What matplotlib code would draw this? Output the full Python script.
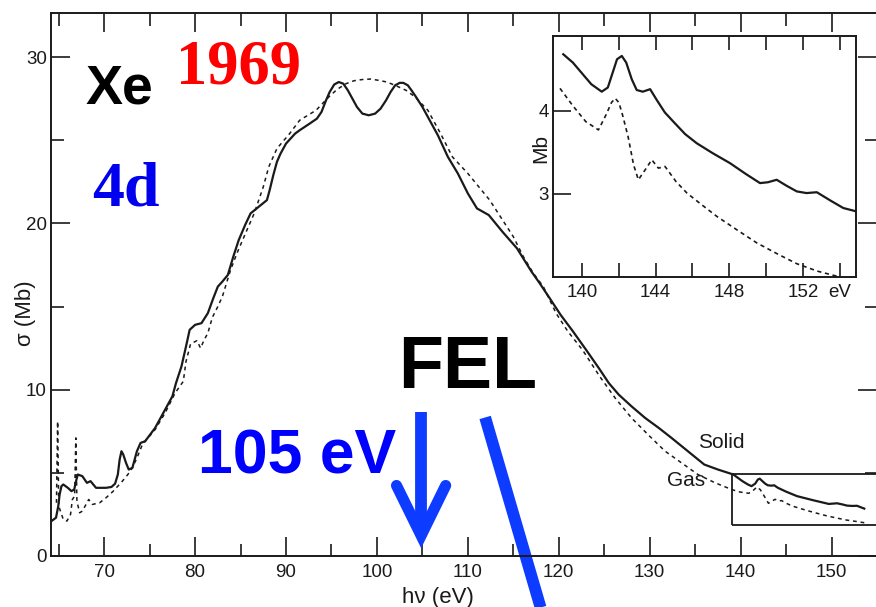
import matplotlib
matplotlib.use("Agg")
import matplotlib.pyplot as plt
from matplotlib.patches import Rectangle

# ---------------- data ----------------
solid_x = [64.2, 64.7, 64.95, 65.1, 65.3, 65.5, 65.75, 66.0, 66.4, 66.7, 66.95, 67.1, 67.6, 68.1,
           68.5, 69.1, 70.2, 70.8, 71.2, 71.5, 71.7, 71.9, 72.1, 72.4, 72.7, 73.1, 73.6, 74.0,
           74.5, 75.6, 76.7, 77.5, 77.9, 78.5, 79.0, 79.4, 80.0, 80.7, 81.4, 82.0, 82.5, 83.0,
           83.6, 84.2, 84.8, 85.5, 86.1, 87.0, 87.9, 88.2, 88.6, 89.0, 89.4, 90.0, 90.5, 91.0,
           91.5, 92.6, 93.4, 93.9, 94.4, 94.8, 95.3, 95.8, 96.3, 96.8, 97.3, 97.8, 98.4, 99.1,
           99.8, 100.4, 101.0, 101.5, 102.0, 102.5, 102.9, 103.4, 103.8, 104.3, 105.0, 105.6,
           106.7, 107.8, 108.9, 110.0, 111.0, 112.3, 113.8, 115.4, 117.0, 117.9, 119.0, 120.2,
           121.5, 123.0, 124.4, 125.5, 126.6, 128.0, 129.5, 131.0, 132.4, 134.2, 136.0, 137.5,
           139.2, 140.2, 140.8, 141.2, 141.6, 141.9, 142.1, 142.4, 142.7, 143.0, 143.4, 143.7,
           144.1, 145.0, 146.2, 148.0, 149.7, 150.2, 150.6, 151.2, 151.7, 152.3, 152.8, 153.6]
solid_y = [2.1, 2.3, 3.0, 3.7, 4.2, 4.3, 4.2, 4.1, 3.9, 4.0, 4.6, 4.9, 4.8, 4.4,
           4.5, 4.1, 4.1, 4.15, 4.35, 4.9, 5.8, 6.3, 6.1, 5.6, 5.2, 5.3, 6.3, 6.8,
           6.9, 7.7, 8.8, 9.6, 10.4, 11.4, 12.6, 13.6, 13.9, 14.0, 14.6, 15.5, 16.2, 16.5,
           16.9, 18.0, 19.0, 19.9, 20.6, 21.0, 21.4, 22.0, 22.9, 23.7, 24.2, 24.8, 25.1, 25.4,
           25.6, 26.0, 26.3, 26.7, 27.4, 27.9, 28.35, 28.5, 28.4, 28.0, 27.5, 27.0, 26.6, 26.5,
           26.6, 26.9, 27.4, 27.9, 28.3, 28.45, 28.45, 28.3, 28.0, 27.6, 27.0, 26.4,
           25.3, 24.0, 23.0, 21.8, 20.9, 20.5, 19.5, 18.5, 17.1, 16.4, 15.5, 14.5,
           13.55, 12.4, 11.3, 10.4, 9.7, 9.0, 8.3, 7.7, 7.1, 6.3, 5.5, 5.2,
           4.9, 4.5, 4.3, 4.2, 4.35, 4.6, 4.65, 4.5, 4.35, 4.25, 4.23, 4.25,
           4.1, 3.87, 3.6, 3.35, 3.13, 3.15, 3.17, 3.1, 3.03, 3.01, 3.02, 2.85]

gas_x = [64.75, 64.88, 65.0, 65.5, 65.9, 66.3, 66.5, 66.75, 66.88, 67.0, 67.3, 67.6, 68.0, 68.3,
         68.7, 69.5, 70.2, 71.0, 72.0, 72.6, 73.1, 73.6, 74.2, 75.6, 76.7, 77.8, 78.7, 79.0,
         79.5, 80.2, 80.6, 81.0, 81.4, 81.9, 82.5, 83.0, 83.9, 84.6, 85.7, 86.5, 87.5, 88.1,
         89.0, 90.4, 91.5, 93.3, 94.7, 95.6, 96.6, 97.5, 98.4, 99.3, 100.2, 101.1, 102.0, 103.2,
         104.2, 105.6, 107.0, 108.3, 110.0, 111.2, 112.4, 113.7, 115.0, 116.1, 117.2, 118.3,
         119.7, 121.0, 122.6, 124.5, 126.2, 128.0, 130.0, 131.7, 133.5, 135.3, 137.2, 139.0,
         139.9, 140.9, 141.4, 141.8, 142.16, 142.5, 143.06, 143.79, 144.15, 144.51, 145.1,
         145.7, 146.5, 147.32, 148.4, 149.5, 150.6, 151.67, 152.8, 153.6]
gas_y = [3.2, 8.1, 3.0, 2.2, 2.1, 2.5, 3.4, 3.6, 7.1, 3.3, 2.6, 2.7, 3.1, 3.4,
         3.1, 3.2, 3.5, 3.9, 4.5, 4.9, 5.3, 5.9, 6.7, 7.6, 8.6, 9.8, 10.5, 11.7,
         12.75, 12.95, 12.5, 13.0, 13.4, 14.35, 15.0, 15.6, 17.2, 18.2, 19.6, 20.6, 22.2, 23.4,
         24.5, 25.4, 26.2, 26.8, 27.6, 28.05, 28.4, 28.58, 28.65, 28.68, 28.6, 28.5, 28.3, 28.0,
         27.6, 26.8, 25.4, 24.0, 23.0, 22.2, 21.4, 20.3, 19.2, 18.0, 17.0, 16.2,
         14.6, 13.5, 12.4, 10.8, 9.5, 8.3, 7.2, 6.3, 5.6, 4.9, 4.4, 4.0,
         3.85, 3.77, 3.95, 4.15, 3.99, 3.69, 3.17, 3.41, 3.31, 3.33, 3.15,
         3.0, 2.87, 2.73, 2.57, 2.41, 2.28, 2.16, 2.07, 2.0]

inset_solid_x = [138.98, 139.5, 140.0, 140.5, 141.07, 141.4, 141.65, 141.9, 142.16, 142.4, 142.7,
                 142.97, 143.3, 143.7, 144.06, 144.5, 144.96, 145.6, 146.23, 147.1, 148.04,
                 148.9, 149.67, 150.1, 150.58, 151.1, 151.67, 152.2, 152.76, 153.5, 154.2, 154.9]
inset_solid_y = [4.68, 4.58, 4.45, 4.32, 4.23, 4.28, 4.45, 4.62, 4.66, 4.58, 4.38,
                 4.25, 4.23, 4.26, 4.13, 3.98, 3.87, 3.72, 3.61, 3.49, 3.37,
                 3.24, 3.13, 3.14, 3.17, 3.1, 3.03, 3.01, 3.02, 2.92, 2.83, 2.79]
inset_gas_x = [138.8, 139.5, 140.2, 140.89, 141.3, 141.6, 141.8, 142.0, 142.2, 142.5, 142.8,
               143.06, 143.4, 143.79, 144.15, 144.51, 145.1, 145.7, 146.5, 147.32, 148.4,
               149.5, 150.6, 151.67, 152.8, 154.02]
inset_gas_y = [4.27, 4.06, 3.87, 3.77, 3.95, 4.1, 4.15, 4.1, 3.95, 3.69, 3.35,
               3.17, 3.28, 3.41, 3.31, 3.33, 3.15, 3.01, 2.87, 2.73, 2.57,
               2.41, 2.28, 2.16, 2.07, 2.0]

main_xticks = [70, 80, 90, 100, 110, 120, 130, 140, 150]
main_yticks = [0, 10, 20, 30]
inset_xticks = [140, 142, 144, 146, 148, 150, 152, 154]
inset_xticklabels = ["140", "", "144", "", "148", "", "152", "eV"]
inset_yticks = [3, 4]

# ---------------- figure ----------------
W, H = 876, 607
plt.rcParams['font.family'] = ['Liberation Sans', 'DejaVu Sans']
fig = plt.figure(figsize=(W / 100, H / 100), dpi=100)


def fx(px):
    return px / W


def fy(py):
    return 1 - py / H


ink = '#1a1a1a'
ax = fig.add_axes([fx(51), fy(556), fx(877) - fx(51), fy(13) - fy(556)])
ax.set_xlim(64.15, 153.57)
ax.set_ylim(0, 32.65)
ax.plot(solid_x, solid_y, color=ink, lw=1.6, solid_joinstyle='round')
ax.plot(gas_x, gas_y, color=ink, lw=1.1, ls=(0, (2.5, 2.5)))
ax.add_patch(Rectangle((139.07, 1.87), 20, 3.08, fill=False, ec=ink, lw=1.3))

ax.set_xticks(main_xticks)
ax.set_xticks([65, 75, 85, 95, 105, 115, 125, 135, 145, 155], minor=True)
ax.set_yticks(main_yticks)
ax.set_yticks([5, 15, 25], minor=True)
ax.tick_params(which='both', direction='in', top=True, right=True, color=ink,
               labelsize=13.5, width=1.2, labelcolor=ink)
ax.tick_params(which='major', length=14)
ax.tick_params(which='minor', length=9)
ax.tick_params(axis='x', pad=6)
ax.tick_params(axis='y', pad=3)
for s in ax.spines.values():
    s.set_linewidth(1.4)
    s.set_color(ink)

fig.text(fx(438), fy(597), 'h\u03bd (eV)', ha='center', va='center', fontsize=16, color=ink)
fig.text(fx(26), fy(313), '\u03c3 (Mb)', rotation=90, ha='center', va='center', fontsize=16, color=ink)

# text annotations
ax.text(68.0, 27.2, 'Xe', fontsize=40, fontweight='bold', family='Liberation Sans', color='black')
ax.text(77.9, 28.4, '1969', fontsize=45, fontweight='bold', family='Liberation Serif', color='#ff0000')
ax.text(68.7, 21.1, '4d', fontsize=46, fontweight='bold', family='Liberation Serif', color='#0000ee')
ax.text(102.3, 10.1, 'FEL', fontsize=53, fontweight='bold', family='Liberation Sans', color='black')
ax.text(80.3, 4.94, '105 eV', fontsize=45, fontweight='bold', family='Liberation Sans', color='#0000ff')
ax.text(135.3, 6.5, 'Solid', fontsize=15, color=ink)
ax.text(131.9, 4.2, 'Gas', fontsize=15, color=ink)

blue = '#0d3bff'
ax.plot([104.86, 104.86], [8.63, 1.6], color=blue, lw=8.5, solid_capstyle='butt')
ax.plot([102.15, 104.86, 107.56], [4.24, 1.23, 4.24], color=blue, lw=8.0,
        solid_capstyle='round', solid_joinstyle='miter')
ax.plot([111.9, 118.0], [8.33, -3.1], color=blue, lw=8.5, solid_capstyle='butt', clip_on=False)

# ---------------- inset ----------------
ins = fig.add_axes([fx(553), fy(277), fx(856) - fx(553), fy(36) - fy(277)])
ins.set_facecolor('white')
ins.set_xlim(138.42, 154.89)
ins.set_ylim(2.0, 4.9)
ins.plot(inset_solid_x, inset_solid_y, color=ink, lw=1.6, solid_joinstyle='round')
ins.plot(inset_gas_x, inset_gas_y, color=ink, lw=1.2, ls=(0, (2.5, 2.2)))
ins.set_xticks(inset_xticks)
ins.set_xticklabels(inset_xticklabels)
ins.set_yticks(inset_yticks)
ins.tick_params(which='both', direction='in', top=True, labelsize=13.5, length=10,
                width=1.2, color=ink, pad=5, labelcolor=ink)
ins.tick_params(axis='y', length=13, pad=3)
for s in ins.spines.values():
    s.set_linewidth(1.4)
    s.set_color(ink)
fig.text(fx(541), fy(148), 'Mb', rotation=90, ha='center', va='center', fontsize=15, color=ink)

fig.savefig('out.png', dpi=100)
